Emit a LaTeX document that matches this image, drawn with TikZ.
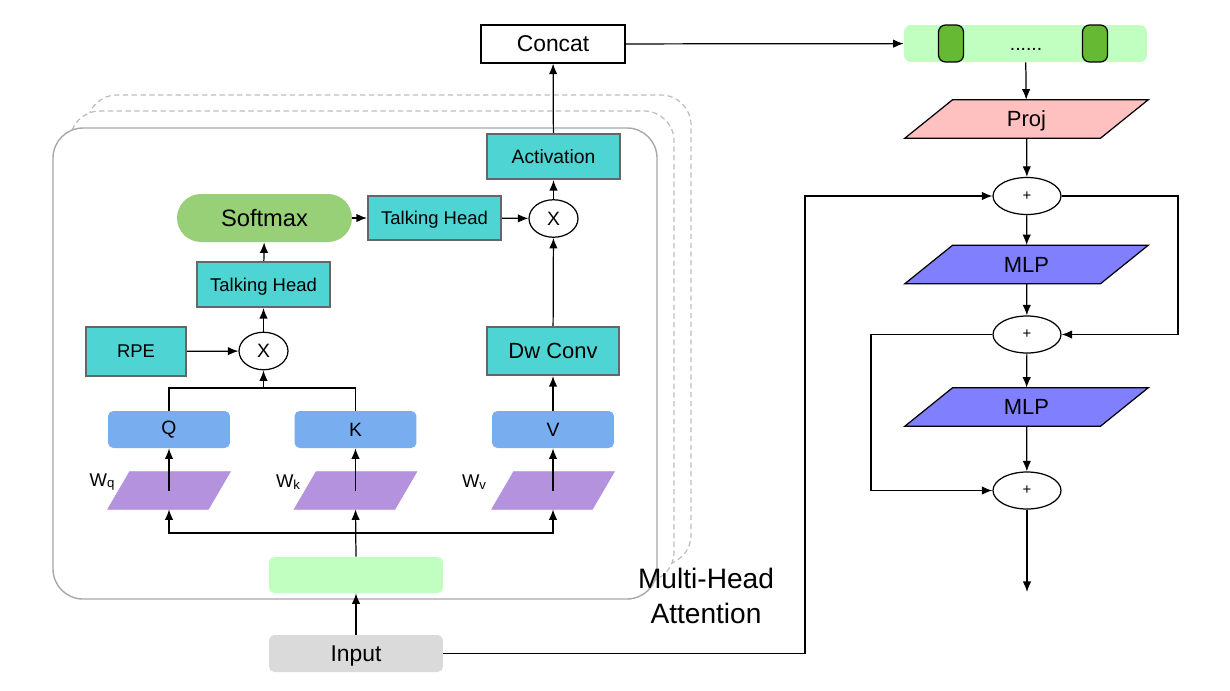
\documentclass[tikz,border=0pt]{standalone}
\usepackage{fontspec}
\setmainfont{Liberation Sans}
\usetikzlibrary{arrows.meta,calc,shapes.geometric,backgrounds}
\definecolor{tealc}{HTML}{4FD4D4}
\definecolor{tealbd}{HTML}{666666}
\definecolor{softc}{HTML}{97D077}
\definecolor{qkvc}{HTML}{78AEF0}
\definecolor{purpc}{HTML}{B592DE}
\definecolor{lgreen}{HTML}{C0FFC0}
\definecolor{dgreen}{HTML}{66B933}
\definecolor{pinkc}{HTML}{FFC0C0}
\definecolor{mlpc}{HTML}{8080FF}
\definecolor{inputc}{HTML}{DADADA}
\definecolor{boxbd}{HTML}{A8A8A8}
\definecolor{dashbd}{HTML}{BDBDBD}
\newcommand\fs[1]{\fontsize{#1}{#1}\selectfont}
\newcommand\mypara[3]{%
  \filldraw[#3] ($(#1.south west)$) -- ($(#1.south east)+(-#2,0)$) -- ($(#1.north east)$) -- ($(#1.north west)+(#2,0)$) -- cycle;}
\tikzset{
  conn/.style={line width=0.7pt,-{Latex[length=6pt,width=4.8pt]}},
  line/.style={line width=0.7pt},
  tealbox/.style={draw=tealbd, line width=1.2pt, fill=tealc, inner sep=0pt},
  qkvbox/.style={fill=qkvc, rounded corners=3pt, inner sep=0pt, minimum width=2.44cm, minimum height=0.74cm, font=\fs{11}},
  wbox/.style={inner sep=0pt, minimum width=2.44cm, minimum height=0.74cm},
  plusop/.style={ellipse, draw, line width=0.7pt, fill=white, minimum width=1.36cm, minimum height=0.74cm, inner sep=0pt, font=\fs{8.5}},
  mulop/.style={ellipse, draw, line width=0.7pt, fill=white, minimum width=0.98cm, minimum height=0.75cm, inner sep=0pt, font=\fs{11}},
  parabox/.style={inner sep=0pt, minimum width=4.86cm, minimum height=0.76cm, font=\fs{12.5}},
  wlabel/.style={font=\fs{10.5}, inner sep=0pt}
}
\begin{document}
\begin{tikzpicture}[x=0.02cm,y=-0.02cm]
\useasboundingbox (0,0) rectangle (1230,690);
% attention head frames
\draw[dashbd, line width=0.7pt, dash pattern=on 3pt off 2pt, rounded corners=0.6cm, fill=white] (87,95) rectangle (691,565);
\draw[dashbd, line width=0.7pt, dash pattern=on 3pt off 2pt, rounded corners=0.6cm, fill=white] (70,111) rectangle (674,582);
\draw[boxbd, line width=0.8pt, rounded corners=0.6cm, fill=white] (53,128) rectangle (657,599);
\node[font=\fs{16}, align=center, inner sep=0pt] (mha) at (706,596) {Multi-Head\\[4pt]Attention};

% left part nodes
\node[draw, line width=0.7pt, fill=white, minimum width=2.88cm, minimum height=0.76cm, inner sep=0pt, font=\fs{13}] (concat) at (553,44) {Concat};
\node[tealbox, minimum width=2.66cm, minimum height=0.9cm, font=\fs{11}] (act) at (553.5,156.5) {Activation};
\node[mulop] (x2) at (553.5,218.5) {X};
\node[tealbox, minimum width=2.66cm, minimum height=0.88cm, font=\fs{10.5}, text depth=0pt] (th2) at (434.5,218) {Talking Head};
\node[fill=softc, rounded corners=0.48cm, minimum width=3.5cm, minimum height=0.96cm, inner sep=0pt, font=\fs{13.5}] (soft) at (264.5,218) {Softmax};
\node[tealbox, minimum width=2.66cm, minimum height=0.9cm, font=\fs{10.5}, text depth=0pt] (th1) at (263.5,284.5) {Talking Head};
\node[mulop] (x1) at (263.5,351) {X};
\node[tealbox, minimum width=2.0cm, minimum height=0.98cm, font=\fs{10.5}] (rpe) at (136,351.5) {RPE};
\node[tealbox, minimum width=2.64cm, minimum height=0.96cm, font=\fs{12.5}] (dw) at (553,351) {Dw Conv};
\node[qkvbox] (q) at (169,429.5) {Q};
\node[qkvbox] (k) at (355.5,429.5) {K};
\node[qkvbox] (v) at (553,429.5) {V};
\node[wbox] (wq) at (169,490.5) {};
\node[wbox] (wk) at (355.5,490.5) {};
\node[wbox] (wv) at (553,490.5) {};
\mypara{wq}{22}{purpc}
\mypara{wk}{22}{purpc}
\mypara{wv}{22}{purpc}
\node[wlabel] (lq) at (102,482) {W\raisebox{-0.2ex}{\fs{7.5}q}};
\node[wlabel] (lk) at (288,482) {W\raisebox{-0.2ex}{\fs{7.5}k}};
\node[wlabel] (lv) at (474,482) {W\raisebox{-0.2ex}{\fs{7.5}v}};
\node[fill=lgreen, rounded corners=3pt, minimum width=3.48cm, minimum height=0.72cm, inner sep=0pt] (emb) at (356,575) {};
\node[fill=inputc, rounded corners=3pt, minimum width=3.48cm, minimum height=0.74cm, inner sep=0pt, font=\fs{13}, text depth=0pt] (input) at (356,653.5) {Input};

% right part nodes
\node[fill=lgreen, rounded corners=4pt, minimum width=4.86cm, minimum height=0.74cm, inner sep=0pt] (bar) at (1025.5,43.5) {};
\node[draw, line width=0.7pt, fill=dgreen, rounded corners=4pt, minimum width=0.5cm, minimum height=0.74cm, inner sep=0pt] (g1) at (951,43.5) {};
\node[draw, line width=0.7pt, fill=dgreen, rounded corners=4pt, minimum width=0.5cm, minimum height=0.74cm, inner sep=0pt] (g2) at (1095,43.5) {};
\node[font=\fs{11}, anchor=base, inner sep=0pt] (dots) at (1026,50) {......};
\node[parabox] (proj) at (1026.5,119) {};
\mypara{proj}{48}{draw, line width=0.7pt, fill=pinkc}
\node[font=\fs{12.5}, text depth=0pt] (projt) at (proj.center) {Proj};
\node[plusop] (p1) at (1027,196) {+};
\node[parabox] (mlp1) at (1026.5,264.5) {};
\mypara{mlp1}{48}{draw, line width=0.7pt, fill=mlpc}
\node[font=\fs{12.5}] (mlp1t) at (mlp1.center) {MLP};
\node[plusop] (p2) at (1027,334.5) {+};
\node[parabox] (mlp2) at (1026.5,407) {};
\mypara{mlp2}{48}{draw, line width=0.7pt, fill=mlpc}
\node[font=\fs{12.5}] (mlp2t) at (mlp2.center) {MLP};
\node[plusop] (p3) at (1027,490.5) {+};
\coordinate (out) at (1027,592);
\coordinate (c1) at (805,196);
\coordinate (rloop) at (1178,334.5);
\coordinate (lloop) at (871,490.5);
\coordinate (qk) at (263.5,388);
\coordinate (br) at (355.5,533);

% connectors left
\draw[conn] (act) -- (concat);
\draw[conn] (x2) -- (act);
\draw[conn] (dw) -- (x2);
\draw[conn] (th2) -- (x2);
\draw[conn] (soft) -- (th2);
\draw[conn] (th1) -- (soft);
\draw[conn] (x1) -- (th1);
\draw[conn] (rpe) -- (x1);
\draw[line] (q.north) |- (qk) -| (k.north);
\draw[conn] (qk) -- (x1.south);
\draw[conn] (v) -- (dw);
\draw[conn] (wq.center) -- (q.south);
\draw[conn] (wk.center) -- (k.south);
\draw[conn] (wv.center) -- (v.south);
\draw[conn] (emb.north) -- (wk.south);
\draw[conn] (br) -| (wq.south);
\draw[conn] (br) -| (wv.south);
\draw[conn] (input) -- (emb);

% connectors right
\draw[conn] (concat) -- (bar);
\draw[conn] (bar) -- (proj);
\draw[conn] (proj) -- (p1);
\draw[conn] (p1) -- (mlp1);
\draw[conn] (mlp1) -- (p2);
\draw[conn] (p2) -- (mlp2);
\draw[conn] (mlp2) -- (p3);
\draw[conn] (p3) -- (out);
\draw[conn] (input.east) -| (c1) -- (p1.west);
\draw[conn] (p1.east) -| (rloop) -- (p2.east);
\draw[conn] (p2.west) -| (lloop) -- (p3.west);
\end{tikzpicture}
\end{document}
